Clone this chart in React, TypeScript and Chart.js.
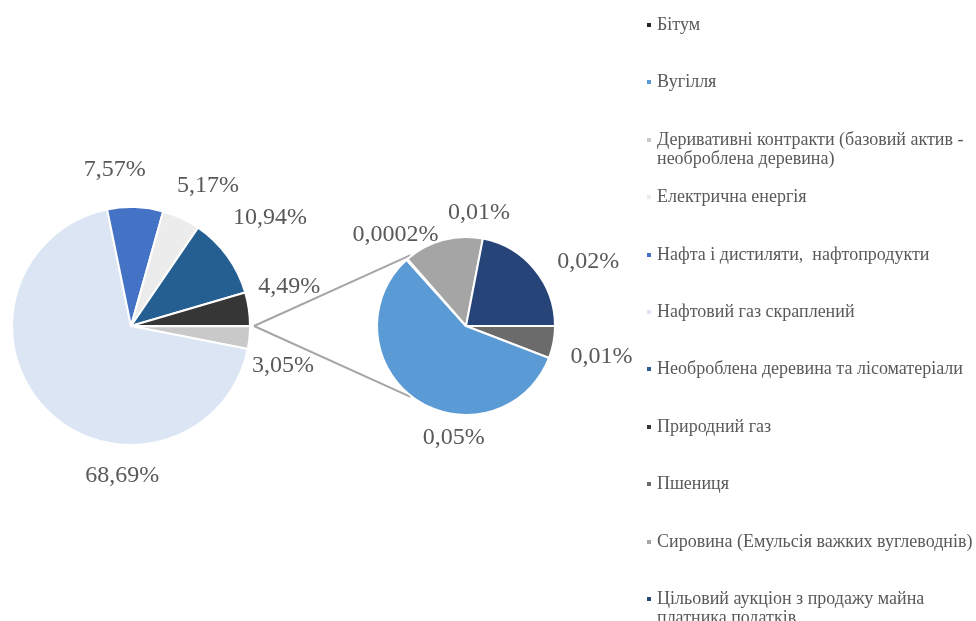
import React, { useEffect, useRef } from "react";
import { Chart, registerables } from "chart.js";

Chart.register(...registerables);

// ---- data ----
const categories = [
  "Бітум",
  "Вугілля",
  "Деривативні контракти (базовий актив -\nнеоброблена деревина)",
  "Електрична енергія",
  "Нафта і дистиляти,  нафтопродукти",
  "Нафтовий газ скраплений",
  "Необроблена деревина та лісоматеріали",
  "Природний газ",
  "Пшениця",
  "Сировина (Емульсія важких вуглеводнів)",
  "Цільовий аукціон з продажу майна\nплатника податків",
];
const shares = [0.0002, 0.0521, 3.05, 5.17, 7.57, 68.69, 10.94, 4.49, 0.0053, 0.0131, 0.0199];
const colors = [
  "#262626",
  "#5b9bd5",
  "#c9c9c9",
  "#ececec",
  "#4472c4",
  "#dbe5f4",
  "#255e91",
  "#363636",
  "#6b6b6b",
  "#a5a5a5",
  "#264478",
];
// slices of the main pie, clockwise after the "other" slice
const mainPieOrder = [2, 5, 4, 3, 6, 7];
// slices of the secondary pie, clockwise from 3 o'clock
const secondPieOrder = [8, 1, 0, 9, 10];

// ---- layout (label placement relative to slice middle) ----
const mainLabelPlacement = [
  null,
  { dAngle: 9, dist: 38 },
  { dAngle: -41.4, dist: 31 },
  { dAngle: -8, dist: 38 },
  { dAngle: 3.8, dist: 41 },
  { dAngle: -1.8, dist: 57 },
  { dAngle: -5.7, dist: 44 },
];
const secondLabelPlacement = [
  { dAngle: 2.4, dist: 50 },
  { dAngle: -28.3, dist: 23 },
  { dAngle: 3.7, dist: 26 },
  { dAngle: 21.7, dist: 25 },
  { dAngle: 11.8, dist: 49 },
];

const W = 976;
const H = 621;
const LABEL_FONT = '24px "Liberation Serif", "DejaVu Serif", serif';
const TEXT_COLOR = "#595959";

const fmt = (v: number) => (v < 0.001 ? v.toFixed(4) : v.toFixed(2)).replace(".", ",") + "%";

function labelPlugin(placements: any[], texts: string[]) {
  return {
    id: "sliceLabels",
    afterDatasetsDraw(chart: any) {
      const ctx = chart.ctx;
      const meta = chart.getDatasetMeta(0);
      ctx.save();
      ctx.font = LABEL_FONT;
      ctx.fillStyle = TEXT_COLOR;
      ctx.textAlign = "center";
      ctx.textBaseline = "middle";
      meta.data.forEach((arc: any, i: number) => {
        const p = placements[i];
        if (!p) return;
        const { x, y, startAngle, endAngle, outerRadius } = arc.getProps(
          ["x", "y", "startAngle", "endAngle", "outerRadius"],
          true
        );
        const a = (startAngle + endAngle) / 2 + (p.dAngle * Math.PI) / 180;
        const r = outerRadius + p.dist;
        ctx.fillText(texts[i], x + Math.cos(a) * r, y + Math.sin(a) * r);
      });
      ctx.restore();
    },
  };
}

export default function App() {
  const mainRef = useRef<HTMLCanvasElement | null>(null);
  const secondRef = useRef<HTMLCanvasElement | null>(null);

  useEffect(() => {
    const otherValue = secondPieOrder.reduce((s, i) => s + shares[i], 0);
    const mainValues = [otherValue, ...mainPieOrder.map((i) => shares[i])];
    const mainTotal = mainValues.reduce((s, v) => s + v, 0);
    const mainColors = ["#ffffff", ...mainPieOrder.map((i) => colors[i])];
    const mainTexts = ["", ...mainPieOrder.map((i) => fmt(shares[i]))];

    const secondValues = secondPieOrder.map((i) => shares[i]);
    const secondColors = secondPieOrder.map((i) => colors[i]);
    const secondTexts = secondPieOrder.map((i) => fmt(shares[i]));

    const mainChart = new Chart(mainRef.current as HTMLCanvasElement, {
      type: "pie",
      data: {
        labels: ["Інше", ...mainPieOrder.map((i) => categories[i])],
        datasets: [
          {
            data: mainValues,
            backgroundColor: mainColors,
            borderColor: "#ffffff",
            borderWidth: 2,
            radius: 119,
          } as any,
        ],
      },
      options: {
        responsive: false,
        animation: false,
        rotation: 90 - (otherValue / mainTotal) * 180,
        layout: { padding: { left: 0, right: W - 262, top: 31, bottom: 0 } },
        plugins: { legend: { display: false }, tooltip: { enabled: false } },
      } as any,
      plugins: [labelPlugin(mainLabelPlacement, mainTexts)],
    });

    const connector = {
      id: "connector",
      beforeDatasetsDraw(chart: any) {
        const mArc: any = mainChart.getDatasetMeta(0).data[0];
        const sArc: any = chart.getDatasetMeta(0).data[0];
        if (!mArc || !sArc) return;
        const m = mArc.getProps(["x", "y", "startAngle", "endAngle", "outerRadius"], true);
        const s = sArc.getProps(["x", "y", "outerRadius"], true);
        const mid = (m.startAngle + m.endAngle) / 2;
        const ax = m.x + Math.cos(mid) * (m.outerRadius + 4);
        const ay = m.y + Math.sin(mid) * (m.outerRadius + 4);
        const ctx = chart.ctx;
        ctx.save();
        ctx.strokeStyle = "#a6a6a6";
        ctx.lineWidth = 2;
        [-128, 128].forEach((deg) => {
          const t = (deg * Math.PI) / 180;
          ctx.beginPath();
          ctx.moveTo(ax, ay);
          ctx.lineTo(s.x + Math.cos(t) * (s.outerRadius + 1), s.y + Math.sin(t) * (s.outerRadius + 1));
          ctx.stroke();
        });
        ctx.restore();
      },
    };

    const secondChart = new Chart(secondRef.current as HTMLCanvasElement, {
      type: "pie",
      data: {
        labels: secondPieOrder.map((i) => categories[i]),
        datasets: [
          {
            data: secondValues,
            backgroundColor: secondColors,
            borderColor: "#ffffff",
            borderWidth: 2,
            radius: 89,
          } as any,
        ],
      },
      options: {
        responsive: false,
        animation: false,
        rotation: 90,
        layout: { padding: { left: 366, right: W - 566, top: 226, bottom: H - 426 } },
        plugins: { legend: { display: false }, tooltip: { enabled: false } },
      } as any,
      plugins: [connector, labelPlugin(secondLabelPlacement, secondTexts)],
    });

    return () => {
      secondChart.destroy();
      mainChart.destroy();
    };
  }, []);

  const canvasStyle: React.CSSProperties = { position: "absolute", left: 0, top: 0, display: "block" };

  return (
    <div style={{ position: "absolute", left: 0, top: 0, width: W, height: H, background: "#ffffff", overflow: "hidden" }}>
      <canvas ref={mainRef} width={W} height={H} style={canvasStyle} />
      <canvas ref={secondRef} width={W} height={H} style={canvasStyle} />
      {categories.map((name, i) => {
        const cy = 25 + i * 57.4;
        return (
          <div key={name}>
            <div
              style={{
                position: "absolute",
                left: 647,
                top: cy - 2,
                width: 4,
                height: 4,
                background: colors[i],
              }}
            />
            <div
              style={{
                position: "absolute",
                left: 657,
                top: cy - 10,
                whiteSpace: "pre",
                font: '18px / 19px "Liberation Serif", "DejaVu Serif", serif',
                color: TEXT_COLOR,
              }}
            >
              {name}
            </div>
          </div>
        );
      })}
    </div>
  );
}
